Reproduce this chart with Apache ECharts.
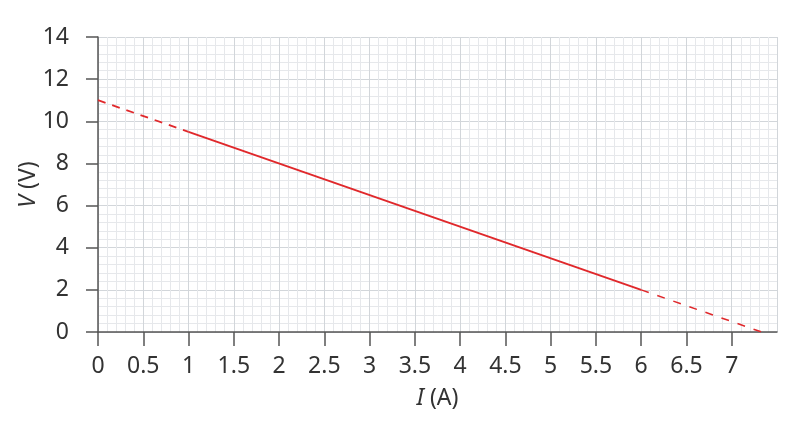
<!DOCTYPE html>
<html>
<head>
<meta charset="utf-8">
<script src="https://cdn.jsdelivr.net/npm/echarts@6/dist/echarts.min.js"></script>
<style>
  html, body { margin: 0; padding: 0; background: #fff; }
  #chart { width: 798px; height: 425px; }
</style>
</head>
<body>
<div id="chart"></div>
<script>
// V = 11 - 1.5 I, measured part solid, extrapolated parts dashed
const leftDashed = [[0, 11], [1, 9.5]];
const measured = [[1, 9.5], [6, 2]];
const rightDashed = [[6, 2], [7.33, 0]];
const xTicks = [0, 0.5, 1, 1.5, 2, 2.5, 3, 3.5, 4, 4.5, 5, 5.5, 6, 6.5, 7];

const FONT = 'Noto Sans';
const AXIS = '#555';
const RED = '#e0282b';

const chart = echarts.init(document.getElementById('chart'));

const nameStyle = {
  fontFamily: FONT, fontSize: 23, color: '#333',
  rich: { i: { fontFamily: FONT, fontSize: 23, fontStyle: 'italic', color: '#333' } }
};

chart.setOption({
  animation: false,
  grid: { left: 98, right: 21, top: 37, bottom: 93 },
  xAxis: [
    {
      type: 'value', min: 0, max: 7.5, interval: 0.5,
      axisLine: { show: false }, axisTick: { show: false }, axisLabel: { show: false },
      splitLine: { show: true, lineStyle: { color: '#d2d6da', width: 1 } },
      minorTick: { show: false, splitNumber: 5 },
      minorSplitLine: { show: true, lineStyle: { color: '#e6e8eb', width: 1 } }
    },
    {
      type: 'value', min: 0, max: 7.5, interval: 0.5, position: 'bottom',
      axisLine: { show: true, lineStyle: { color: AXIS, width: 1.5 } },
      axisTick: { show: true, customValues: xTicks, length: 14, lineStyle: { color: AXIS, width: 1.5 } },
      axisLabel: { customValues: xTicks, margin: 23, fontFamily: FONT, fontSize: 23, color: '#333' },
      splitLine: { show: false },
      name: '{i|I} (A)', nameLocation: 'middle', nameGap: 55, nameMoveOverlap: false,
      nameTextStyle: nameStyle
    }
  ],
  yAxis: {
    type: 'value', min: 0, max: 14, interval: 2,
    axisLine: { show: true, lineStyle: { color: AXIS, width: 1.5 } },
    axisTick: { show: true, length: 12, lineStyle: { color: AXIS, width: 1.5 } },
    axisLabel: { margin: 29, fontFamily: FONT, fontSize: 23, color: '#333' },
    splitLine: { show: true, lineStyle: { color: '#d2d6da', width: 1 } },
    minorTick: { show: false, splitNumber: 5 },
    minorSplitLine: { show: true, lineStyle: { color: '#e6e8eb', width: 1 } },
    name: '{i|V} (V)', nameLocation: 'middle', nameGap: 58, nameRotate: 90, nameMoveOverlap: false,
    nameTextStyle: nameStyle
  },
  series: [
    { type: 'line', xAxisIndex: 1, data: leftDashed, symbol: 'none', silent: true,
      lineStyle: { color: RED, width: 1.8, type: [8, 7] } },
    { type: 'line', xAxisIndex: 1, data: measured, symbol: 'none', silent: true,
      lineStyle: { color: RED, width: 2 } },
    { type: 'line', xAxisIndex: 1, data: rightDashed, symbol: 'none', silent: true,
      lineStyle: { color: RED, width: 1.5, type: [8, 9] } }
  ]
});
</script>
</body>
</html>
